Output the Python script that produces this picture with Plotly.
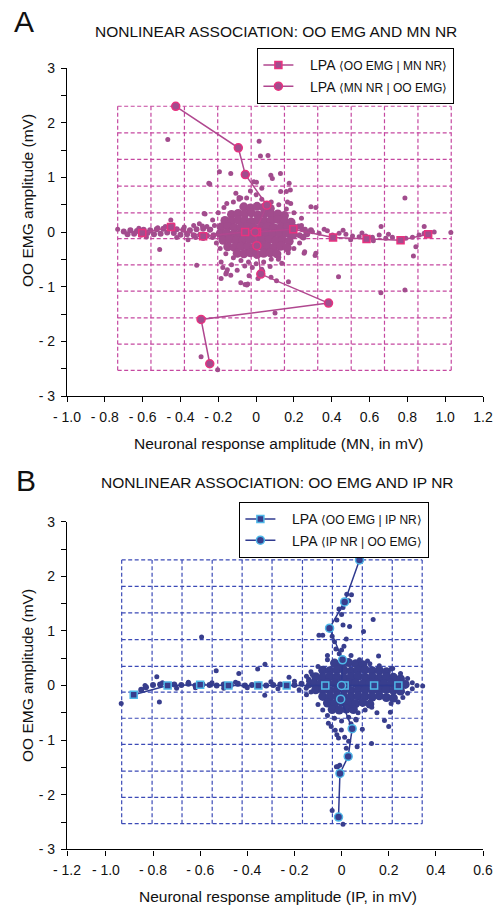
import plotly.graph_objects as go

# ---------------- DATA ----------------
# Panel A (MN)
A_x_edges = [-0.732, -0.556, -0.379, -0.203, -0.026, 0.150, 0.326, 0.503, 0.679, 0.856, 1.032]
A_y_edges = [-2.53, -2.05, -1.57, -1.08, -0.60, -0.12, 0.35, 0.84, 1.33, 1.815, 2.30]
A_sq_x = [-0.602, -0.45, -0.28, -0.058, 0.005, 0.197, 0.407, 0.584, 0.764, 0.910]
A_sq_y = [-0.02, 0.09, -0.08, 0.0, 0.0, 0.05, -0.10, -0.13, -0.15, -0.04]
A_ci_x = [-0.425, -0.094, -0.057, 0.057, -0.005, 0.004, 0.025, 0.383, -0.291, -0.245]
A_ci_y = [2.30, 1.54, 1.05, 0.49, 0.0, -0.25, -0.77, -1.30, -1.60, -2.41]

A_core_x = [
    -0.065, -0.03, 0.005, 0.04, 0.075,
    -0.13, -0.095, -0.06, -0.025, 0.01, 0.045, 0.08, 0.115, 0.15,
    -0.165, -0.13, -0.095, -0.06, -0.025, 0.01, 0.045, 0.08, 0.115, 0.15, 0.185,
    -0.185, -0.15, -0.115, -0.08, -0.045, -0.01, 0.025, 0.06, 0.095, 0.13, 0.165, 0.2,
    -0.19, -0.155, -0.12, -0.085, -0.05, -0.015, 0.02, 0.055, 0.09, 0.125, 0.16, 0.195,
    -0.175, -0.14, -0.105, -0.07, -0.035, 0.0, 0.035, 0.07, 0.105, 0.14, 0.175,
    -0.15, -0.115, -0.08, -0.045, -0.01, 0.025, 0.06, 0.095, 0.13, 0.165,
    -0.1, -0.065, -0.03, 0.005, 0.04, 0.075, 0.11]
A_core_y = [
    0.46, 0.44, 0.47, 0.45, 0.43,
    0.32, 0.34, 0.33, 0.35, 0.31, 0.34, 0.32, 0.33, 0.30,
    0.21, 0.20, 0.22, 0.21, 0.19, 0.22, 0.20, 0.21, 0.23, 0.20, 0.18,
    0.09, 0.10, 0.08, 0.09, 0.10, 0.08, 0.09, 0.10, 0.08, 0.09, 0.10, 0.07,
    -0.03, -0.02, -0.04, -0.03, -0.02, -0.03, -0.04, -0.02, -0.03, -0.04, -0.02, -0.05,
    -0.15, -0.14, -0.16, -0.15, -0.14, -0.16, -0.15, -0.14, -0.16, -0.15, -0.17,
    -0.27, -0.28, -0.26, -0.27, -0.28, -0.26, -0.27, -0.28, -0.26, -0.29,
    -0.39, -0.40, -0.38, -0.41, -0.39, -0.38, -0.40]

A_arm_x = [-0.70, -0.665, -0.63, -0.595, -0.56, -0.525, -0.49, -0.455, -0.42, -0.385, -0.35, -0.315, -0.28, -0.245,
           -0.68, -0.645, -0.61, -0.575, -0.54, -0.505, -0.47, -0.435, -0.40, -0.365, -0.33, -0.295, -0.26, -0.225,
           0.225, 0.245, 0.265, 0.23, 0.25, 0.27, 0.29]
A_arm_y = [0.01, 0.03, 0.02, 0.04, 0.03, 0.05, 0.06, 0.07, 0.05, 0.04, 0.03, 0.05, 0.06, 0.04,
           -0.04, -0.03, -0.05, -0.02, -0.04, -0.03, -0.01, -0.02, -0.05, -0.04, -0.06, -0.05, -0.07, -0.06,
           0.10, 0.05, 0.0, -0.06, -0.10, -0.04, 0.03]

A_dots = [
    (-0.12, 0.55), (-0.09, 0.60), (-0.05, 0.62), (0.03, 0.60), (0.08, 0.55), (0.12, 0.50), (0.16, 0.42),
    (0.20, 0.35), (0.24, 0.25), (-0.17, 0.45), (-0.20, 0.35), (-0.23, 0.22), (-0.155, 0.52),
    (0.24, 0.12), (0.26, 0.05), (0.25, -0.08), (0.23, -0.20), (0.20, -0.30), (0.17, -0.38),
    (-0.22, 0.12), (-0.24, 0.05), (-0.23, -0.10), (-0.21, -0.20), (-0.19, -0.30), (-0.16, -0.40),
    (-0.12, -0.47), (-0.08, -0.52), (-0.04, -0.55), (0.0, -0.58), (0.04, -0.55), (0.08, -0.50), (0.12, -0.46),
    (-0.02, -0.65), (0.03, -0.68), (-0.06, -0.62),
    (-0.185, -0.55), (-0.176, -0.65), (-0.157, -0.74), (-0.081, -0.93), (-0.049, -0.97), (-0.185, -0.85),
    (0.074, -0.63), (0.035, -0.72), (0.118, -0.50), (0.136, -0.57), (-0.16, -0.77), (-0.058, -0.96),
    (-0.044, -0.95), (-0.037, -0.80), (0.079, -0.83), (0.108, -0.89), (0.171, -0.91), (0.01, -0.85),
    (-0.10, -0.70), (-0.13, -0.60), (-0.152, -0.69), (-0.134, -0.79),
    (-0.107, 0.71), (-0.081, 0.62), (-0.25, 0.89), (-0.134, 1.07), (0.086, 0.98), (0.078, 1.04),
    (0.175, 0.89), (0.183, 0.52), (0.166, 0.55), (0.13, 0.74), (0.29, 0.46), (-0.275, 0.34),
    (-0.467, 1.69), (0.016, 1.66), (0.023, 1.39), (0.063, 1.40), (-0.194, 1.10), (-0.012, 0.92),
    (0.002, 0.91), (0.129, 1.07), (-0.245, 0.88), (0.181, 0.77), (0.16, 0.74), (-0.09, 0.63),
    (0.316, 0.45), (0.787, 0.62), (-0.03, 0.75), (0.03, 0.80), (0.0, 0.68),
    (-0.732, 0.05), (1.03, -0.01), (-0.51, -0.32), (-0.314, -0.61), (0.254, -0.39), (0.312, -0.43),
    (0.436, -0.82), (0.832, -0.44), (0.787, -1.06), (0.661, 0.10), (0.889, 0.10), (-0.451, 0.22),
    (-0.27, 0.33), (-0.284, 0.11), (0.66, -1.11), (0.10, -1.48), (-0.291, -2.28), (-0.203, -2.52),
    (0.845, -0.27), (0.257, -0.36), (0.316, -0.39),
    (0.298, 0.006), (0.333, -0.024), (0.377, 0.024), (0.404, -0.055), (0.439, -0.024), (0.475, -0.043),
    (0.51, -0.073), (0.545, -0.085), (0.58, -0.073), (0.615, -0.098), (0.651, -0.055), (0.686, -0.116),
    (0.721, -0.098), (0.757, -0.134), (0.792, -0.116), (0.827, -0.098), (0.862, -0.055), (0.889, -0.024),
    (0.915, -0.03), (0.942, 0.0), (0.36, 0.05), (0.46, 0.03), (0.56, -0.02), (0.70, -0.04), (0.62, -0.16),
    (0.50, -0.14),
    (-0.48, 0.10), (-0.44, 0.13), (-0.52, 0.08), (-0.38, 0.09), (-0.33, 0.12), (-0.30, 0.15), (-0.28, -0.12),
    (-0.32, -0.10), (-0.26, 0.10), (-0.62, 0.07), (-0.58, -0.09), (-0.36, -0.14), (-0.42, -0.10)]

# Panel B (IP)
B_x_edges = [-0.933, -0.804, -0.677, -0.549, -0.422, -0.295, -0.166, -0.039, 0.088, 0.215, 0.342]
B_y_edges = [-2.53, -2.05, -1.57, -1.08, -0.60, -0.12, 0.35, 0.84, 1.33, 1.815, 2.30]
B_sq_x = [-0.882, -0.738, -0.600, -0.480, -0.353, -0.233, -0.069, 0.013, 0.138, 0.241]
B_sq_y = [-0.17, 0.0, 0.015, 0.0, 0.0, 0.0, 0.0, 0.0, 0.0, 0.0]
B_ci_x = [0.076, 0.013, -0.051, 0.004, 0.0, -0.004, 0.045, 0.028, -0.007, -0.013]
B_ci_y = [2.30, 1.53, 1.05, 0.47, 0.0, -0.25, -0.79, -1.30, -1.61, -2.41]

B_core_x = [
    -0.03, 0.0, 0.03, 0.06, 0.09,
    -0.08, -0.05, -0.02, 0.01, 0.04, 0.07, 0.10, 0.13, 0.16, 0.19,
    -0.11, -0.08, -0.05, -0.02, 0.01, 0.04, 0.07, 0.10, 0.13, 0.16, 0.19, 0.22, 0.25,
    -0.12, -0.09, -0.06, -0.03, 0.0, 0.03, 0.06, 0.09, 0.12, 0.15, 0.18, 0.21, 0.24, 0.27,
    -0.11, -0.08, -0.05, -0.02, 0.01, 0.04, 0.07, 0.10, 0.13, 0.16, 0.19, 0.22, 0.25,
    -0.08, -0.05, -0.02, 0.01, 0.04, 0.07, 0.10, 0.13, 0.16, 0.19, 0.22,
    -0.06, -0.03, 0.0, 0.03, 0.06, 0.09, 0.12,
    -0.04, -0.01, 0.02, 0.05]
B_core_y = [
    0.41, 0.39, 0.42, 0.40, 0.38,
    0.28, 0.27, 0.29, 0.28, 0.26, 0.28, 0.29, 0.27, 0.28, 0.25,
    0.16, 0.15, 0.17, 0.16, 0.14, 0.16, 0.17, 0.15, 0.16, 0.14, 0.16, 0.15, 0.12,
    0.04, 0.03, 0.05, 0.04, 0.03, 0.05, 0.04, 0.03, 0.05, 0.04, 0.03, 0.04, 0.03, 0.02,
    -0.08, -0.07, -0.09, -0.08, -0.07, -0.09, -0.08, -0.07, -0.09, -0.08, -0.07, -0.09, -0.10,
    -0.20, -0.21, -0.19, -0.20, -0.21, -0.19, -0.20, -0.21, -0.19, -0.22, -0.23,
    -0.32, -0.33, -0.31, -0.32, -0.33, -0.31, -0.34,
    -0.44, -0.45, -0.43, -0.44]

B_arm_x = [-0.80, -0.77, -0.74, -0.71, -0.68, -0.65, -0.62, -0.59, -0.56, -0.53, -0.50, -0.47, -0.44, -0.41,
           -0.38, -0.35, -0.32, -0.29, -0.26, -0.23, -0.20, -0.17, -0.14, -0.83, -0.85]
B_arm_y = [0.01, 0.02, 0.0, 0.02, 0.01, 0.03, 0.0, 0.02, 0.01, 0.0, 0.02, 0.01, 0.03, 0.0,
           0.01, 0.02, 0.0, 0.01, 0.02, 0.0, 0.01, 0.03, 0.0, -0.03, -0.08]

B_dots = [
    (-0.024, 0.67), (0.0, 0.65), (0.006, 1.11), (0.034, 1.08), (-0.011, 1.40), (0.006, 1.43), (0.022, 1.67),
    (0.042, 1.66), (0.093, 0.99), (0.134, 1.21), (0.157, 0.54), (0.076, 0.47), (-0.096, 0.92), (-0.08, 0.92),
    (-0.03, 0.80), (-0.04, 0.90), (-0.02, 1.20), (0.0, 1.30), (-0.01, 0.58), (0.01, 0.72), (0.02, 0.85),
    (-0.06, 0.55), (0.11, 0.45), (0.04, 0.55), (0.03, 1.55),
    (-0.06, 0.47), (0.12, 0.40), (0.16, 0.36), (0.21, 0.30), (-0.10, 0.35), (-0.13, 0.25), (0.217, 0.31),
    (0.25, 0.22), (-0.14, 0.12),
    (0.28, 0.13), (0.30, 0.05), (0.32, 0.0), (0.344, -0.01), (0.30, -0.06), (0.28, -0.14), (0.26, -0.22),
    (0.21, -0.33), (0.207, -0.49), (0.182, -0.64), (0.20, -0.75), (0.128, -0.40), (0.24, -0.30),
    (-0.06, -0.55), (-0.03, -0.60), (0.0, -0.65), (0.03, -0.58), (0.07, -0.50), (0.10, -0.45), (-0.08, -0.45),
    (-0.10, -0.35), (-0.056, -0.69), (-0.044, -0.75), (-0.027, -0.82), (-0.02, -0.90), (-0.013, -0.96),
    (0.088, -0.80), (0.127, -1.06), (0.066, -1.12), (0.04, -0.70), (0.06, -0.62), (-0.001, -0.815),
    (0.013, -0.95), (0.062, -0.63), (0.041, -0.45), (0.15, -0.50),
    (-0.017, -1.49), (-0.008, -1.46), (-0.022, -1.49), (-0.04, -2.29), (0.006, -2.54), (0.03, -1.02),
    (0.02, -1.15),
    (-0.149, 0.17), (-0.149, -0.17), (-0.14, 0.08), (-0.15, -0.05), (-0.13, -0.12), (-0.125, 0.20),
    (-0.784, 0.16), (-0.773, -0.30), (-0.834, 0.0), (-0.594, 0.89), (-0.532, 0.27), (-0.436, 0.22),
    (-0.356, 0.30), (-0.325, 0.39), (-0.223, 0.15), (-0.326, -0.18), (-0.935, -0.33), (-0.65, 0.06),
    (-0.62, -0.04), (-0.55, 0.05), (-0.50, -0.05), (-0.45, 0.06), (-0.40, -0.04), (-0.30, 0.07),
    (-0.27, -0.06), (-0.20, 0.08), (-0.18, -0.08), (-0.70, -0.05), (-0.76, 0.05)]

A_xticks = [-1.0, -0.8, -0.6, -0.4, -0.2, 0.0, 0.2, 0.4, 0.6, 0.8, 1.0, 1.2]
A_xtext = ["- 1.0", "- 0.8", "- 0.6", "- 0.4", "- 0.2", "0", "0.2", "0.4", "0.6", "0.8", "1.0", "1.2"]
B_xticks = [-1.165, -1.0, -0.8, -0.6, -0.4, -0.2, 0.0, 0.2, 0.4, 0.6]
B_xtext = ["- 1.2", "- 1.0", "- 0.8", "- 0.6", "- 0.4", "- 0.2", "0", "0.2", "0.4", "0.6"]
y_ticks = [-3, -2.5, -2, -1.5, -1, -0.5, 0, 0.5, 1, 1.5, 2, 2.5, 3]
y_text = ["- 3", "", "- 2", "", "- 1", "", "0", "", "1", "", "2", "", "3"]

assert len(A_core_x) == len(A_core_y) and len(B_core_x) == len(B_core_y)
assert len(A_arm_x) == len(A_arm_y) and len(B_arm_x) == len(B_arm_y)

# ---------------- STYLE ----------------
FONT = "Liberation Sans, Arial, Helvetica, sans-serif"
A_dot, A_line, A_edge, A_grid = "#a24c8d", "#b0478f", "#e8327f", "#c548a0"
B_dot, B_line, B_edge, B_grid = "#383e8d", "#2f3a8f", "#4fb8e8", "#3b4ab6"

fig = go.Figure()


def add_panel(xa, ya, core_x, core_y, arm_x, arm_y, dots, sq_x, sq_y, ci_x, ci_y,
              dot_c, line_c, edge_c, names, legend):
    fig.add_trace(go.Scatter(x=core_x, y=core_y, mode="markers", xaxis=xa, yaxis=ya,
                             marker=dict(size=9, color=dot_c), showlegend=False, hoverinfo="skip"))
    fig.add_trace(go.Scatter(x=arm_x, y=arm_y, mode="markers", xaxis=xa, yaxis=ya,
                             marker=dict(size=6, color=dot_c), showlegend=False, hoverinfo="skip"))
    fig.add_trace(go.Scatter(x=[p[0] for p in dots], y=[p[1] for p in dots], mode="markers",
                             xaxis=xa, yaxis=ya, marker=dict(size=5, color=dot_c),
                             showlegend=False, hoverinfo="skip"))
    fig.add_trace(go.Scatter(x=sq_x, y=sq_y, mode="lines+markers", xaxis=xa, yaxis=ya,
                             line=dict(color=line_c, width=1.5),
                             marker=dict(symbol="square", size=7, color=dot_c,
                                         line=dict(color=edge_c, width=1.5)),
                             name=names[0], legend=legend))
    fig.add_trace(go.Scatter(x=ci_x, y=ci_y, mode="lines+markers", xaxis=xa, yaxis=ya,
                             line=dict(color=line_c, width=1.5),
                             marker=dict(symbol="circle", size=8, color=dot_c,
                                         line=dict(color=edge_c, width=1.5)),
                             name=names[1], legend=legend))


def lbl(a, b):
    return ("   LPA<span style='font-size:12px'> \u27e8" + a + " | " + b + "\u27e9</span>")


add_panel("x", "y", A_core_x, A_core_y, A_arm_x, A_arm_y, A_dots, A_sq_x, A_sq_y, A_ci_x, A_ci_y,
          A_dot, A_line, A_edge, [lbl("OO EMG", "MN NR"), lbl("MN NR", "OO EMG")], "legend")
add_panel("x2", "y2", B_core_x, B_core_y, B_arm_x, B_arm_y, B_dots, B_sq_x, B_sq_y, B_ci_x, B_ci_y,
          B_dot, B_line, B_edge, [lbl("OO EMG", "IP NR"), lbl("IP NR", "OO EMG")], "legend2")

shapes = []
for xr, yr, xe, ye, col in [("x", "y", A_x_edges, A_y_edges, A_grid),
                            ("x2", "y2", B_x_edges, B_y_edges, B_grid)]:
    for v in xe:
        shapes.append(dict(type="line", xref=xr, yref=yr, x0=v, x1=v, y0=ye[0], y1=ye[-1],
                           line=dict(color=col, width=1.2, dash="4px,2.5px"), layer="below"))
    for v in ye:
        shapes.append(dict(type="line", xref=xr, yref=yr, x0=xe[0], x1=xe[-1], y0=v, y1=v,
                           line=dict(color=col, width=1.2, dash="4px,2.5px"), layer="below"))

W, H = 499, 907
axis_common = dict(showline=True, linecolor="black", linewidth=1.4, ticks="outside",
                   ticklen=5, tickwidth=1.3, tickcolor="black", showgrid=False, zeroline=False,
                   tickfont=dict(family=FONT, size=14, color="#111"), automargin=False,
                   ticklabelstandoff=3)
xdom = [67 / W, 483 / W]


def ydom(top, bot):
    return [1 - bot / H, 1 - top / H]


def pt(x, y):
    return x / W, 1 - y / H


annotations = []


def ann(text, x, y, size, angle=0):
    px, py = pt(x, y)
    annotations.append(dict(text=text, x=px, y=py, xref="paper", yref="paper", showarrow=False,
                            xanchor="center", yanchor="middle", textangle=angle,
                            font=dict(family=FONT, size=size, color="#111")))


ann("A", 24, 21, 30)
ann("NONLINEAR ASSOCIATION: OO EMG AND MN NR", 276, 32, 15.5)
ann("Neuronal response amplitude (MN, in mV)", 278, 443, 15.5)
ann("OO EMG amplitude (mV)", 27, 201, 15.5, -90)
ann("B", 26, 480, 30)
ann("NONLINEAR ASSOCIATION: OO EMG AND IP NR", 277, 483, 15.5)
ann("Neuronal response amplitude (IP, in mV)", 278, 896, 15.5)
ann("OO EMG amplitude (mV)", 27, 676, 15.5, -90)

lgA = pt(257, 48)
lgB = pt(239, 502)
legend_common = dict(bgcolor="white", bordercolor="black", borderwidth=1.4,
                     font=dict(family=FONT, size=14, color="#111"),
                     xanchor="left", yanchor="top", tracegroupgap=0)

fig.update_layout(
    width=W, height=H, margin=dict(l=0, r=0, t=0, b=0),
    paper_bgcolor="white", plot_bgcolor="white",
    font=dict(family=FONT, color="#111"),
    xaxis=dict(domain=xdom, range=[-1.0, 1.2], tickvals=A_xticks, ticktext=A_xtext, anchor="y", **axis_common),
    yaxis=dict(domain=ydom(68, 396), range=[-3, 3], tickvals=y_ticks, ticktext=y_text, anchor="x", **axis_common),
    xaxis2=dict(domain=xdom, range=[-1.165, 0.6], tickvals=B_xticks, ticktext=B_xtext, anchor="y2", **axis_common),
    yaxis2=dict(domain=ydom(521.7, 849.3), range=[-3, 3], tickvals=y_ticks, ticktext=y_text, anchor="x2", **axis_common),
    legend=dict(x=lgA[0], y=lgA[1], **legend_common),
    legend2=dict(x=lgB[0], y=lgB[1], **legend_common),
    shapes=shapes, annotations=annotations,
)

fig.write_html("out.html", config={"displayModeBar": False},
               post_script="document.body.style.margin='0';document.body.style.overflow='hidden';")
